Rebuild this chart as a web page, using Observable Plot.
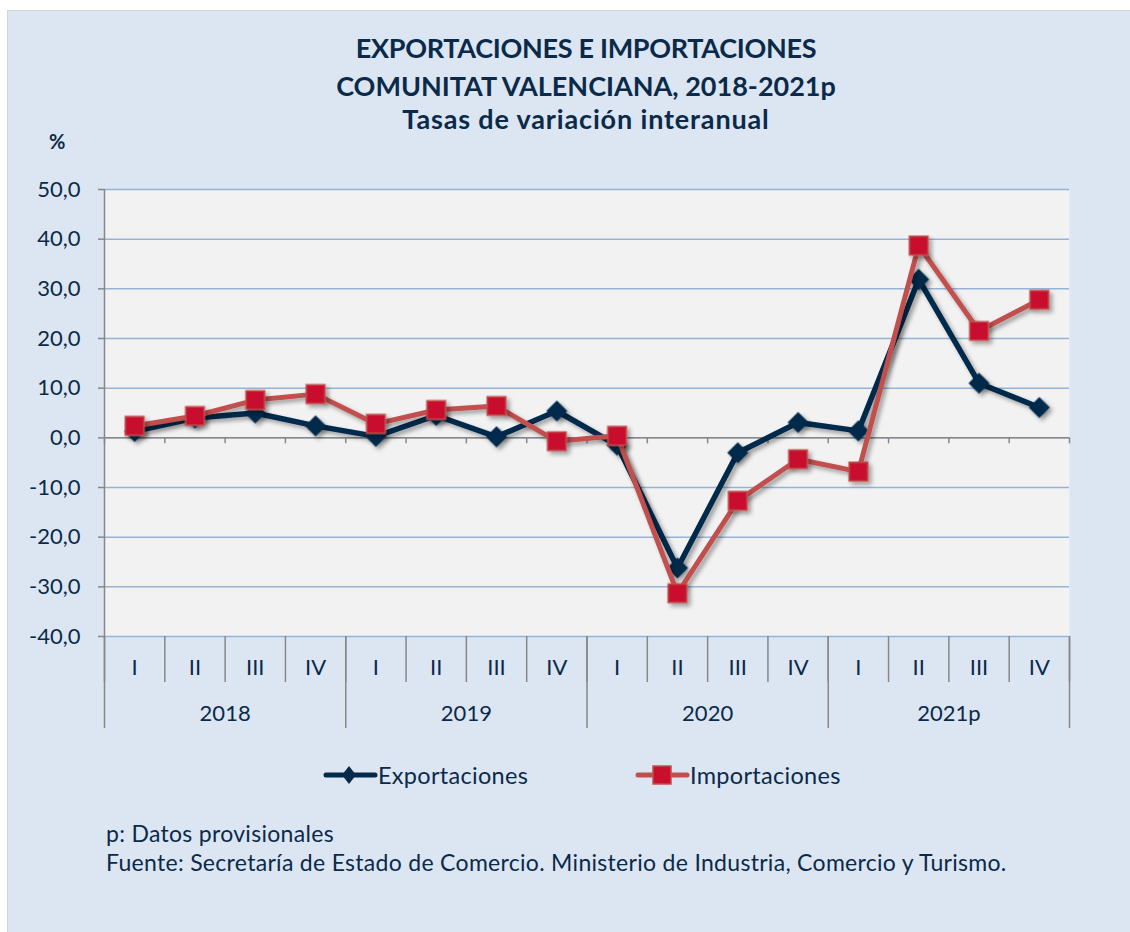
<!DOCTYPE html>
<html><head><meta charset="utf-8">
<script src="https://cdn.jsdelivr.net/npm/d3@7"></script>
<script src="https://cdn.jsdelivr.net/npm/@observablehq/plot@0.6"></script>
<style>
html,body{margin:0;padding:0;background:#fff;}
body{width:1130px;height:932px;position:relative;overflow:hidden;font-family:Lato,"Noto Sans",sans-serif;color:#0b2a4a;}
#panel{position:absolute;left:7px;top:10px;width:1123px;height:922px;background:#dce6f2;border-left:1px solid #d4d4d4;border-top:1px solid #d4d4d4;}
.t{position:absolute;left:0;width:1172px;text-align:center;font-weight:700;font-size:27px;line-height:34px;white-space:nowrap;}
#pct{position:absolute;left:49px;top:129px;font-weight:700;font-size:20px;line-height:24px;}
#chart{position:absolute;left:0;top:130px;}
.leg{position:absolute;font-size:23.5px;line-height:24px;letter-spacing:0.3px;white-space:nowrap;}
.note{position:absolute;left:106px;font-size:23px;line-height:24px;letter-spacing:0.3px;white-space:nowrap;}
</style></head>
<body>
<div id="panel"></div>
<div class="t" style="top:31px;letter-spacing:-0.3px">EXPORTACIONES E IMPORTACIONES</div>
<div class="t" style="top:69px;letter-spacing:0px">COMUNITAT VALENCIANA, 2018-2021p</div>
<div class="t" style="top:102px;letter-spacing:0.85px">Tasas de variación interanual</div>
<div id="pct">%</div>
<div id="chart"></div>
<div id="legend"></div>
<div class="note" style="top:821px">p: Datos provisionales</div>
<div class="note" style="top:850px">Fuente: Secretaría de Estado de Comercio. Ministerio de Industria, Comercio y Turismo.</div>
<script>
const years = ["2018", "2019", "2020", "2021p"];
const quarters = ["I", "II", "III", "IV"];
const exportaciones = [1.3, 4.0, 5.0, 2.4, 0.3, 4.5, 0.2, 5.4, -1.5, -26.2, -3.0, 3.1, 1.4, 31.9, 11.0, 6.1];
const importaciones = [2.4, 4.4, 7.6, 8.8, 2.8, 5.6, 6.4, -0.7, 0.4, -31.3, -12.7, -4.3, -6.8, 38.7, 21.5, 27.8];
const yTicks = [-40, -30, -20, -10, 0, 10, 20, 30, 40, 50];
const seriesNames = ["Exportaciones", "Importaciones"];

const navy = "#032a4b", redLine = "#c0504d", redFill = "#c8102e", axisGray = "#878787", gridBlue = "#95b3d7", textColor = "#0b2a4a";

const nQ = years.length * quarters.length;
const rows = exportaciones.map((v, i) => ({
  pos: i + 0.5,
  year: years[Math.floor(i / quarters.length)],
  q: quarters[i % quarters.length],
  exp: v,
  imp: importaciones[i]
}));
const qBounds = d3.range(0, nQ + 1);
const yearBounds = d3.range(0, nQ + 1, quarters.length);
const yearRows = years.map((y, k) => ({year: y, mid: k * quarters.length + quarters.length / 2}));

const plot = Plot.plot({
  width: 1130, height: 620,
  marginLeft: 104, marginRight: 61, marginTop: 59, marginBottom: 114,
  style: {background: "transparent", fontFamily: "Lato, 'Noto Sans', sans-serif", fontSize: "22px", color: textColor, overflow: "visible"},
  x: {type: "linear", domain: [0, nQ], axis: null},
  y: {type: "linear", domain: [-40, 50], axis: null},
  marks: [
    Plot.frame({fill: "#f2f2f2", stroke: null}),
    Plot.ruleY(yTicks, {stroke: gridBlue, strokeWidth: 1.5}),
    Plot.ruleY([0], {stroke: axisGray, strokeWidth: 1.5}),
    Plot.ruleX(qBounds, {x: d => d, y1: 0, y2: 0, insetBottom: -6, stroke: axisGray, strokeWidth: 1.5}),
    Plot.ruleX(qBounds, {x: d => d, y1: -40, y2: -40, insetBottom: -46, stroke: axisGray, strokeWidth: 1.5}),
    Plot.ruleX(yearBounds, {x: d => d, y1: -40, y2: -40, insetBottom: -92, stroke: axisGray, strokeWidth: 1.5}),
    Plot.ruleX([0], {y1: 50, y2: -40, stroke: axisGray, strokeWidth: 1.5}),
    Plot.axisY(yTicks, {tickSize: 6, tickPadding: 18, stroke: axisGray, strokeWidth: 1.5, fill: textColor, fontSize: 22, tickFormat: d => d.toFixed(1).replace(".", ","), label: null}),
    Plot.text(rows, {x: "pos", y: () => -40, text: "q", dy: 31, fontSize: 22, fill: textColor}),
    Plot.text(yearRows, {x: "mid", y: () => -40, text: "year", dy: 77, fontSize: 22, fill: textColor}),
    Plot.line(rows, {x: "pos", y: "exp", stroke: navy, strokeWidth: 5.5, strokeLinejoin: "miter"}),
    Plot.dot(rows, {x: "pos", y: "exp", symbol: "diamond2", r: 9.5, fill: navy, stroke: "none"}),
    Plot.line(rows, {x: "pos", y: "imp", stroke: redLine, strokeWidth: 5, strokeLinejoin: "miter"}),
    Plot.dot(rows, {x: "pos", y: "imp", symbol: "square", r: 10.5, fill: redFill, stroke: redLine, strokeWidth: 1.5})
  ]
});
const svgNS = "http://www.w3.org/2000/svg";
const defs = document.createElementNS(svgNS, "defs");
defs.innerHTML = '<filter id="shadow" x="-20%" y="-20%" width="140%" height="140%"><feDropShadow dx="3" dy="3" stdDeviation="2" flood-color="#000" flood-opacity="0.35"/></filter>';
plot.insertBefore(defs, plot.firstChild);
plot.querySelectorAll('g[aria-label="line"], g[aria-label="dot"]').forEach(g => g.setAttribute("filter", "url(#shadow)"));
document.getElementById("chart").appendChild(plot);

// legend
const legend = document.getElementById("legend");
const legItems = [
  {name: seriesNames[0], left: 323, color: navy, symbol: "diamond"},
  {name: seriesNames[1], left: 635, color: redLine, symbol: "square"}
];
legItems.forEach(it => {
  const s = document.createElementNS(svgNS, "svg");
  s.setAttribute("width", 56); s.setAttribute("height", 24);
  s.style.position = "absolute"; s.style.left = it.left + "px"; s.style.top = "763px";
  let marker = it.symbol === "diamond"
    ? `<path d="M26,3L33,12L26,21L19,12Z" fill="${navy}"/>`
    : `<rect x="18" y="3" width="18" height="18" fill="${redFill}" stroke="${redLine}" stroke-width="1.5"/>`;
  s.innerHTML = `<line x1="3" y1="12" x2="52" y2="12" stroke="${it.color}" stroke-width="5" stroke-linecap="round"/>` + marker;
  legend.appendChild(s);
  const t = document.createElement("div");
  t.className = "leg"; t.textContent = it.name;
  t.style.left = (it.left + 55) + "px"; t.style.top = "763px";
  legend.appendChild(t);
});
</script>
</body></html>
